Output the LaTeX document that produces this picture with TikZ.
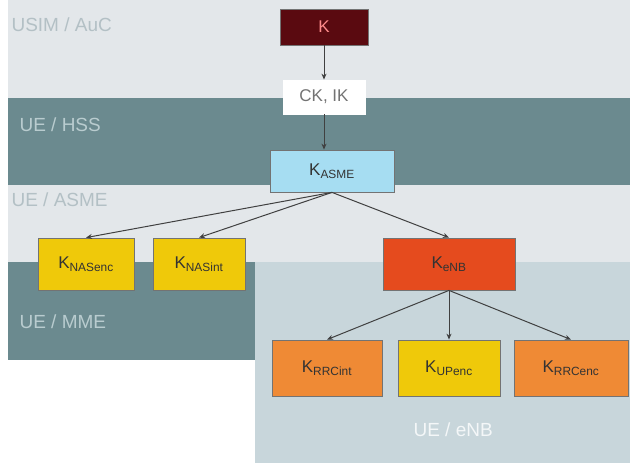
\documentclass[tikz,border=0pt]{standalone}
\usepackage{fontspec}
\setmainfont{Liberation Sans}
\usetikzlibrary{arrows.meta}
\definecolor{bandlight}{HTML}{E3E7EA}
\definecolor{banddark}{HTML}{6B8A8F}
\definecolor{bandenb}{HTML}{C8D6DB}
\definecolor{kdark}{HTML}{5A0A10}
\definecolor{kblue}{HTML}{A6DDF2}
\definecolor{kyellow}{HTML}{EFC90A}
\definecolor{kred}{HTML}{E54B1E}
\definecolor{korange}{HTML}{EF8A35}
\definecolor{labellight}{HTML}{B3C0C5}
\definecolor{labeldark}{HTML}{B9CCCF}
\tikzset{
  keybox/.style={draw=black!55, line width=0.8pt, minimum height=36pt, font=\fontsize{17}{20}\selectfont, text=black!80},
  bandlabel/.style={anchor=west, font=\fontsize{19}{22}\selectfont},
  link/.style={draw=black!75, line width=1pt, -{Stealth[length=6pt,width=5pt]}}
}
\begin{document}
\begin{tikzpicture}[x=1pt,y=-1pt]
\useasboundingbox (0,0) rectangle (630,463);
% security domains as bands
\fill[bandlight] (8,0) rectangle (630,98);
\fill[banddark] (8,98) rectangle (630,185);
\fill[bandlight] (8,185) rectangle (630,262);
\fill[banddark] (8,262) rectangle (258,360);
\fill[bandenb] (255,262) rectangle (630,463);
\node[bandlabel, text=labellight] (lauc) at (8,25) {USIM / AuC};
\node[bandlabel, text=labeldark] (lhss) at (16,125) {UE / HSS};
\node[bandlabel, text=labellight] (lasme) at (8,200) {UE / ASME};
\node[bandlabel, text=labeldark] (lmme) at (16,322) {UE / MME};
\node[bandlabel, text=white!80!bandenb] (lenb) at (410,430) {UE / eNB};
% key nodes
\node[keybox, fill=kdark, text=red!45, minimum width=88pt] (k) at (324,27) {K};
\node[keybox, fill=white, draw=white, minimum width=82pt, minimum height=34pt, text=black!55] (ckik) at (324,97) {CK, IK};
\node[keybox, fill=kblue, minimum width=124pt, minimum height=42pt] (kasme) at (332,171) {K\textsubscript{ASME}};
\node[keybox, fill=kyellow, minimum width=96pt, minimum height=52pt] (nasenc) at (86,264) {K\textsubscript{NASenc}};
\node[keybox, fill=kyellow, minimum width=92pt, minimum height=52pt] (nasint) at (199,264) {K\textsubscript{NASint}};
\node[keybox, fill=kred, minimum width=132pt, minimum height=52pt] (kenb) at (449,264) {K\textsubscript{eNB}};
\node[keybox, fill=korange, minimum width=110pt, minimum height=56pt] (rrcint) at (327,368) {K\textsubscript{RRCint}};
\node[keybox, fill=kyellow, minimum width=102pt, minimum height=56pt] (upenc) at (449,368) {K\textsubscript{UPenc}};
\node[keybox, fill=korange, minimum width=114pt, minimum height=56pt] (rrcenc) at (571,368) {K\textsubscript{RRCenc}};
% derivations
\draw[link] (k) -- (ckik);
\draw[link] (ckik) -- (ckik |- kasme.north);
\draw[link] (kasme.south) -- (nasenc.north);
\draw[link] (kasme.south) -- (nasint.north);
\draw[link] (kasme.south) -- (kenb.north);
\draw[link] (kenb.south) -- (rrcint.north);
\draw[link] (kenb.south) -- (upenc.north);
\draw[link] (kenb.south) -- (rrcenc.north);
\end{tikzpicture}
\end{document}
